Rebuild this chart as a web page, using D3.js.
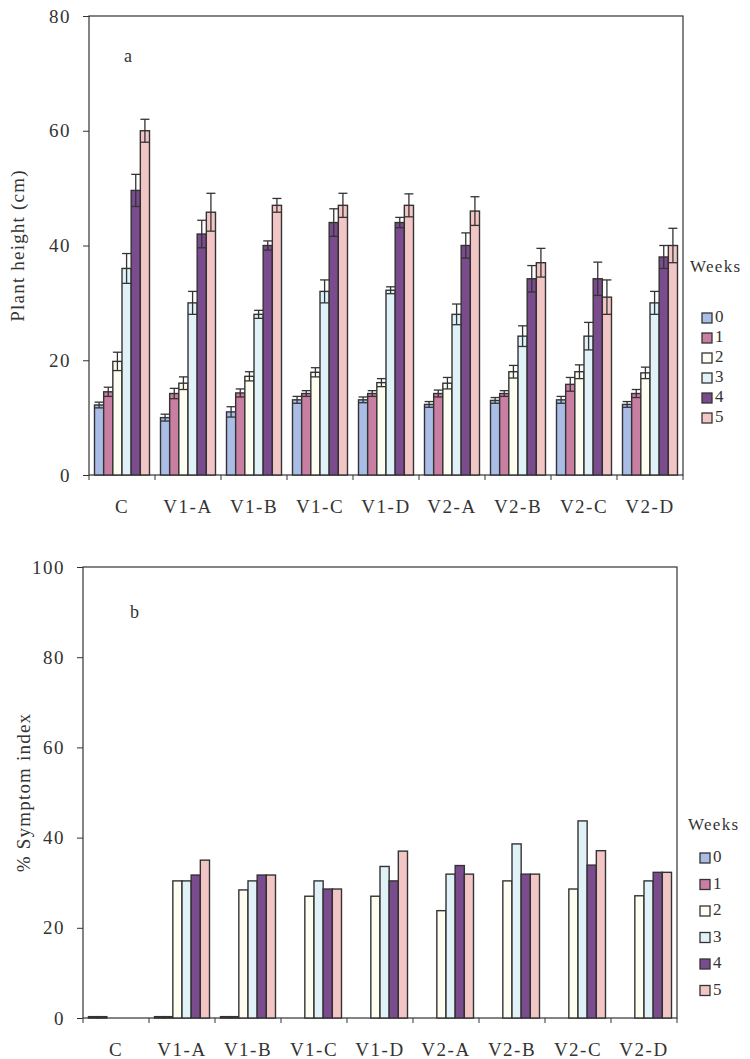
<!DOCTYPE html>
<html><head><meta charset="utf-8">
<script src="https://cdn.jsdelivr.net/npm/d3@7"></script>
<style>body{margin:0;background:#fff;} svg{display:block;} text{font-family:"Liberation Serif","Times New Roman",serif;fill:#333;}</style>
</head><body>
<script>
const categories = ["C","V1-A","V1-B","V1-C","V1-D","V2-A","V2-B","V2-C","V2-D"];
const weeks = ["0","1","2","3","4","5"];
const weekColors = ["#aabde6","#c97fa2","#fdfdf2","#e0f1f8","#7b4c8d","#f3c6c6"];

const heightWeek0 = [12.2,10,11,13.1,13.1,12.3,13,13.1,12.3];
const heightWeek1 = [14.5,14.2,14.3,14.2,14.2,14.2,14.2,15.8,14.2];
const heightWeek2 = [19.8,16,17.2,17.9,16.1,16,18,18,17.8];
const heightWeek3 = [36,30,28,32,32.2,28,24.2,24.2,30];
const heightWeek4 = [49.6,42,40,44,44,40,34.2,34.2,38];
const heightWeek5 = [60,45.8,47,47,47,46,37,31,40];
const heightErr0 = [0.5,0.6,0.9,0.6,0.5,0.5,0.5,0.6,0.5];
const heightErr1 = [0.8,0.9,0.7,0.5,0.5,0.6,0.5,1.2,0.7];
const heightErr2 = [1.6,1.1,0.8,0.8,0.7,1,1.1,1.2,1];
const heightErr3 = [2.6,2,0.7,2,0.6,1.8,1.8,2.4,2];
const heightErr4 = [2.8,2.4,0.8,2.4,0.9,2.2,2.3,2.9,2];
const heightErr5 = [2,3.3,1.2,2.1,2,2.5,2.5,3,3];

const symptomWeek0 = [0.3,0.3,0.3,0,0,0,0,0,0];
const symptomWeek1 = [0.3,0.3,0.3,0,0,0,0,0,0];
const symptomWeek2 = [0,30.4,28.4,27,27,23.8,30.4,28.6,27.1];
const symptomWeek3 = [0,30.4,30.4,30.4,33.6,31.9,38.6,43.7,30.4];
const symptomWeek4 = [0,31.7,31.7,28.6,30.4,33.8,31.9,33.9,32.3];
const symptomWeek5 = [0,35,31.7,28.6,37,31.9,31.9,37.1,32.3];

const heightTicks = [0,20,40,60,80];
const symptomTicks = [0,20,40,60,80,100];

const heightSeries = [heightWeek0,heightWeek1,heightWeek2,heightWeek3,heightWeek4,heightWeek5];
const heightErrs = [heightErr0,heightErr1,heightErr2,heightErr3,heightErr4,heightErr5];
const symptomSeries = [symptomWeek0,symptomWeek1,symptomWeek2,symptomWeek3,symptomWeek4,symptomWeek5];

const svg = d3.select("body").append("svg").attr("width",750).attr("height",1059);
const ink = "#333";

function panel(o){
  const x = d3.scaleBand().domain(categories).range([o.left,o.right]);
  const xi = d3.scaleBand().domain(weeks).range([5.5, x.bandwidth()-5.5]);
  const y = d3.scaleLinear().domain([0,o.max]).range([o.bottom,o.top]);
  const g = svg.append("g");
  // frame
  g.append("rect").attr("x",o.left).attr("y",o.top).attr("width",o.right-o.left).attr("height",o.bottom-o.top)
    .attr("fill","none").attr("stroke",ink).attr("stroke-width",1.2);
  // bars
  const rows = [];
  o.series.forEach((s,wi)=>s.forEach((v,ci)=>rows.push({c:categories[ci],w:weeks[wi],wi:wi,v:v,e:o.errs?o.errs[wi][ci]:null})));
  const data = rows.filter(d=>d.v>0);
  g.selectAll("rect.bar").data(data).join("rect").attr("class","bar")
    .attr("x",d=>x(d.c)+xi(d.w)).attr("width",xi.bandwidth())
    .attr("y",d=>y(d.v)).attr("height",d=>y(0)-y(d.v))
    .attr("fill",d=>weekColors[d.wi]).attr("stroke",ink).attr("stroke-width",1.4);
  if(o.errs){
    const eb = g.selectAll("g.err").data(data).join("g").attr("class","err").attr("stroke",ink).attr("stroke-width",1.3);
    const cx = d=>x(d.c)+xi(d.w)+xi.bandwidth()/2;
    eb.append("line").attr("x1",cx).attr("x2",cx).attr("y1",d=>y(d.v-d.e)).attr("y2",d=>y(d.v+d.e));
    eb.append("line").attr("x1",d=>cx(d)-4.5).attr("x2",d=>cx(d)+4.5).attr("y1",d=>y(d.v+d.e)).attr("y2",d=>y(d.v+d.e));
    eb.append("line").attr("x1",d=>cx(d)-4.5).attr("x2",d=>cx(d)+4.5).attr("y1",d=>y(d.v-d.e)).attr("y2",d=>y(d.v-d.e));
  }
  // y axis
  const ya = g.append("g").attr("transform",`translate(${o.left},0)`)
    .call(d3.axisLeft(y).tickValues(o.ticks).tickSize(6).tickPadding(12).tickFormat(d3.format("d")));
  ya.select(".domain").remove();
  ya.selectAll("line").attr("stroke",ink);
  ya.selectAll("text").style("font-size","19px").style("letter-spacing","1.5px").attr("fill",ink).attr("font-family","Liberation Serif");
  // x axis ticks at category boundaries
  const bounds = categories.map(c=>x(c)).concat([o.right]);
  g.selectAll("line.xt").data(bounds).join("line").attr("class","xt")
    .attr("x1",d=>d).attr("x2",d=>d).attr("y1",o.bottom).attr("y2",o.bottom+5).attr("stroke",ink).attr("stroke-width",1);
  g.selectAll("text.xl").data(categories).join("text").attr("class","xl")
    .attr("x",d=>x(d)+x.bandwidth()/2).attr("y",o.bottom+38).attr("text-anchor","middle")
    .style("font-size","19px").style("letter-spacing","1.5px").text(d=>d);
  // y title
  g.append("text").attr("transform",`translate(${o.titleX},${(o.top+o.bottom)/2}) rotate(-90)`)
    .attr("text-anchor","middle").style("font-size","19px").style("letter-spacing","1.2px").text(o.title);
  // panel letter
  g.append("text").attr("x",o.letterX).attr("y",o.letterY).style("font-size","18px").text(o.letter);
  // legend
  const lg = g.append("g");
  lg.append("text").attr("x",o.legX-12).attr("y",o.legTitleY).style("font-size","17px").style("letter-spacing","1.3px").text("Weeks");
  const it = lg.selectAll("g").data(weeks).join("g").attr("transform",(d,i)=>`translate(${o.legX},${o.legY0+i*o.legStep})`);
  it.append("rect").attr("x",0).attr("y",-9).attr("width",10).attr("height",10).attr("fill",(d,i)=>weekColors[i]).attr("stroke",ink).attr("stroke-width",1.3);
  it.append("text").attr("x",13).attr("y",0).style("font-size","17px").text(d=>d);
}

panel({left:89,right:683,top:16,bottom:475,max:80,ticks:heightTicks,series:heightSeries,errs:heightErrs,
  title:"Plant height (cm)",titleX:24,letter:"a",letterX:124,letterY:62,
  legX:702,legTitleY:272,legY0:322,legStep:20});
panel({left:83,right:677,top:567,bottom:1018,max:100,ticks:symptomTicks,series:symptomSeries,errs:null,
  title:"% Symptom index",titleX:30,letter:"b",letterX:130,letterY:618,
  legX:700,legTitleY:830,legY0:862,legStep:26.5});
</script>
</body></html>
